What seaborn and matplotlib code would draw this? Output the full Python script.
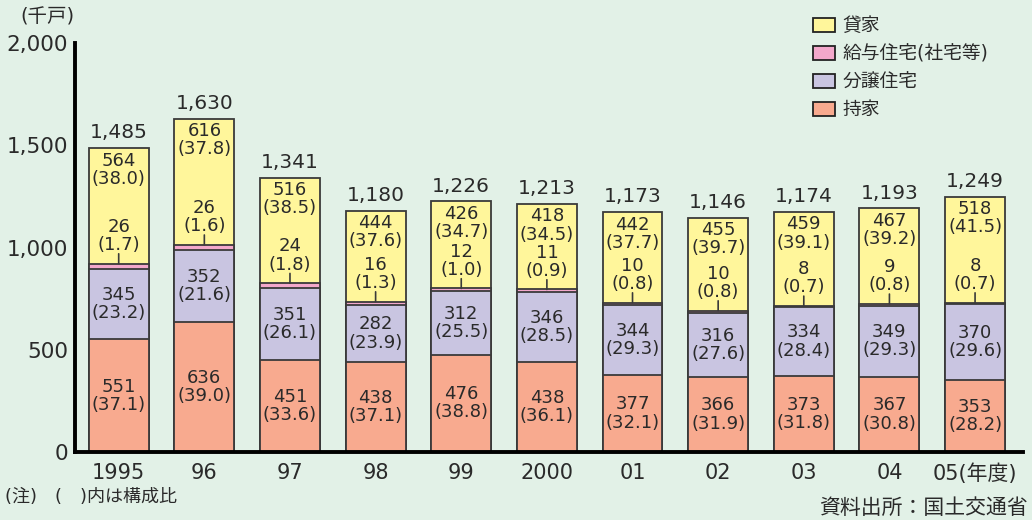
import numpy as np
import matplotlib.pyplot as plt
from matplotlib.patches import Patch
import seaborn as sns

# データ（千戸、括弧内は構成比％）
years = ['1995', '96', '97', '98', '99', '2000', '01', '02', '03', '04', '05(年度)']
mochiie = [551, 636, 451, 438, 476, 438, 377, 366, 373, 367, 353]
mochiie_pct = [37.1, 39.0, 33.6, 37.1, 38.8, 36.1, 32.1, 31.9, 31.8, 30.8, 28.2]
bunjo = [345, 352, 351, 282, 312, 346, 344, 316, 334, 349, 370]
bunjo_pct = [23.2, 21.6, 26.1, 23.9, 25.5, 28.5, 29.3, 27.6, 28.4, 29.3, 29.6]
kyuyo = [26, 26, 24, 16, 12, 11, 10, 10, 8, 9, 8]
kyuyo_pct = [1.7, 1.6, 1.8, 1.3, 1.0, 0.9, 0.8, 0.8, 0.7, 0.8, 0.7]
kashiya = [564, 616, 516, 444, 426, 418, 442, 455, 459, 467, 518]
kashiya_pct = [38.0, 37.8, 38.5, 37.6, 34.7, 34.5, 37.7, 39.7, 39.1, 39.2, 41.5]
totals = [1485, 1630, 1341, 1180, 1226, 1213, 1173, 1146, 1174, 1193, 1249]

series_names = ['貸家', '給与住宅(社宅等)', '分譲住宅', '持家']
colors = ['#FFF69B', '#F3A8CB', '#C9C5E1', '#F8AA8F']

sns.set_style('white')
# 数字は幅の広い DejaVu、和文は Noto にフォールバック
plt.rcParams['font.family'] = ['DejaVu Sans', 'Noto Sans CJK JP']

bg = '#E2F1E7'
edge = '#3A3A3A'
txt = '#2A2A2A'

fig = plt.figure(figsize=(10.32, 5.2), dpi=100, facecolor=bg)
ax = fig.add_axes([0.0727, 0.1308, 0.9186, 0.7862])
ax.set_facecolor(bg)

# 積み上げ（上の層から順に重ねて描く）
c1 = np.array(mochiie)
c2 = c1 + np.array(bunjo)
c3 = c2 + np.array(kyuyo)
c4 = c3 + np.array(kashiya)

for heights, col in zip([c4, c3, c2, c1], colors):
    sns.barplot(x=years, y=heights, color=col, saturation=1, width=0.7,
                edgecolor=edge, linewidth=1.3, errorbar=None, ax=ax)

ax.set_xlim(-0.51, 10.56)
ax.set_ylim(0, 2000)
ax.set_xlabel('')
ax.set_ylabel('')

yt = [0, 500, 1000, 1500, 2000]
ax.set_yticks(yt)
ax.set_yticklabels([f'{v:,}' for v in yt])

for s in ['top', 'right']:
    ax.spines[s].set_visible(False)
for s in ['left', 'bottom']:
    ax.spines[s].set_linewidth(2.8)
    ax.spines[s].set_color('black')

ax.tick_params(axis='y', direction='in', length=7, width=2.8, labelsize=15.5, pad=5, labelcolor=txt)
ax.tick_params(axis='x', length=0, labelsize=15, pad=8, labelcolor=txt)

lab = dict(ha='center', va='center', fontsize=13, linespacing=1.02, color=txt)
for i in range(len(years)):
    ax.annotate(f'{mochiie[i]}\n({mochiie_pct[i]:.1f})', (i, c1[i] / 2), **lab)
    ax.annotate(f'{bunjo[i]}\n({bunjo_pct[i]:.1f})', (i, c1[i] + bunjo[i] / 2), **lab)
    ax.annotate(f'{kashiya[i]}\n({kashiya_pct[i]:.1f})', (i, c4[i]),
                xytext=(0, -15.5), textcoords='offset points', **lab)
    ax.annotate(f'{kyuyo[i]}\n({kyuyo_pct[i]:.1f})', (i, c3[i]),
                xytext=(0, 20), textcoords='offset points', **lab)
    ax.annotate('', xy=(i, c3[i]), xytext=(0, 7), textcoords='offset points',
                arrowprops=dict(arrowstyle='-', color=edge, lw=1.2, shrinkA=0, shrinkB=0))
    ax.annotate(f'{totals[i]:,}', (i, c4[i]), xytext=(0, 11), textcoords='offset points',
                ha='center', va='center', fontsize=14.5, color=txt)

handles = [Patch(facecolor=c, edgecolor='#222222', linewidth=1.3) for c in colors]
fig.legend(handles, series_names, loc='upper left', bbox_to_anchor=(804 / 1032, 1 - 7 / 520),
           bbox_transform=fig.transFigure, frameon=False, borderpad=0, fontsize=13.5,
           handlelength=1.15, handleheight=0.75, handletextpad=0.4, labelspacing=0.48,
           labelcolor=txt)

fig.text(75 / 1032, 1 - 17 / 520, '(千戸)', ha='right', va='center', fontsize=14, color=txt)
fig.text(5 / 1032, 1 - 497 / 520, '(注)　(　)内は構成比', ha='left', va='center', fontsize=13, color=txt)
fig.text(1028 / 1032, 1 - 508 / 520, '資料出所：国土交通省', ha='right', va='center', fontsize=15, color=txt)

fig.savefig('out.png', dpi=100, facecolor=bg)
